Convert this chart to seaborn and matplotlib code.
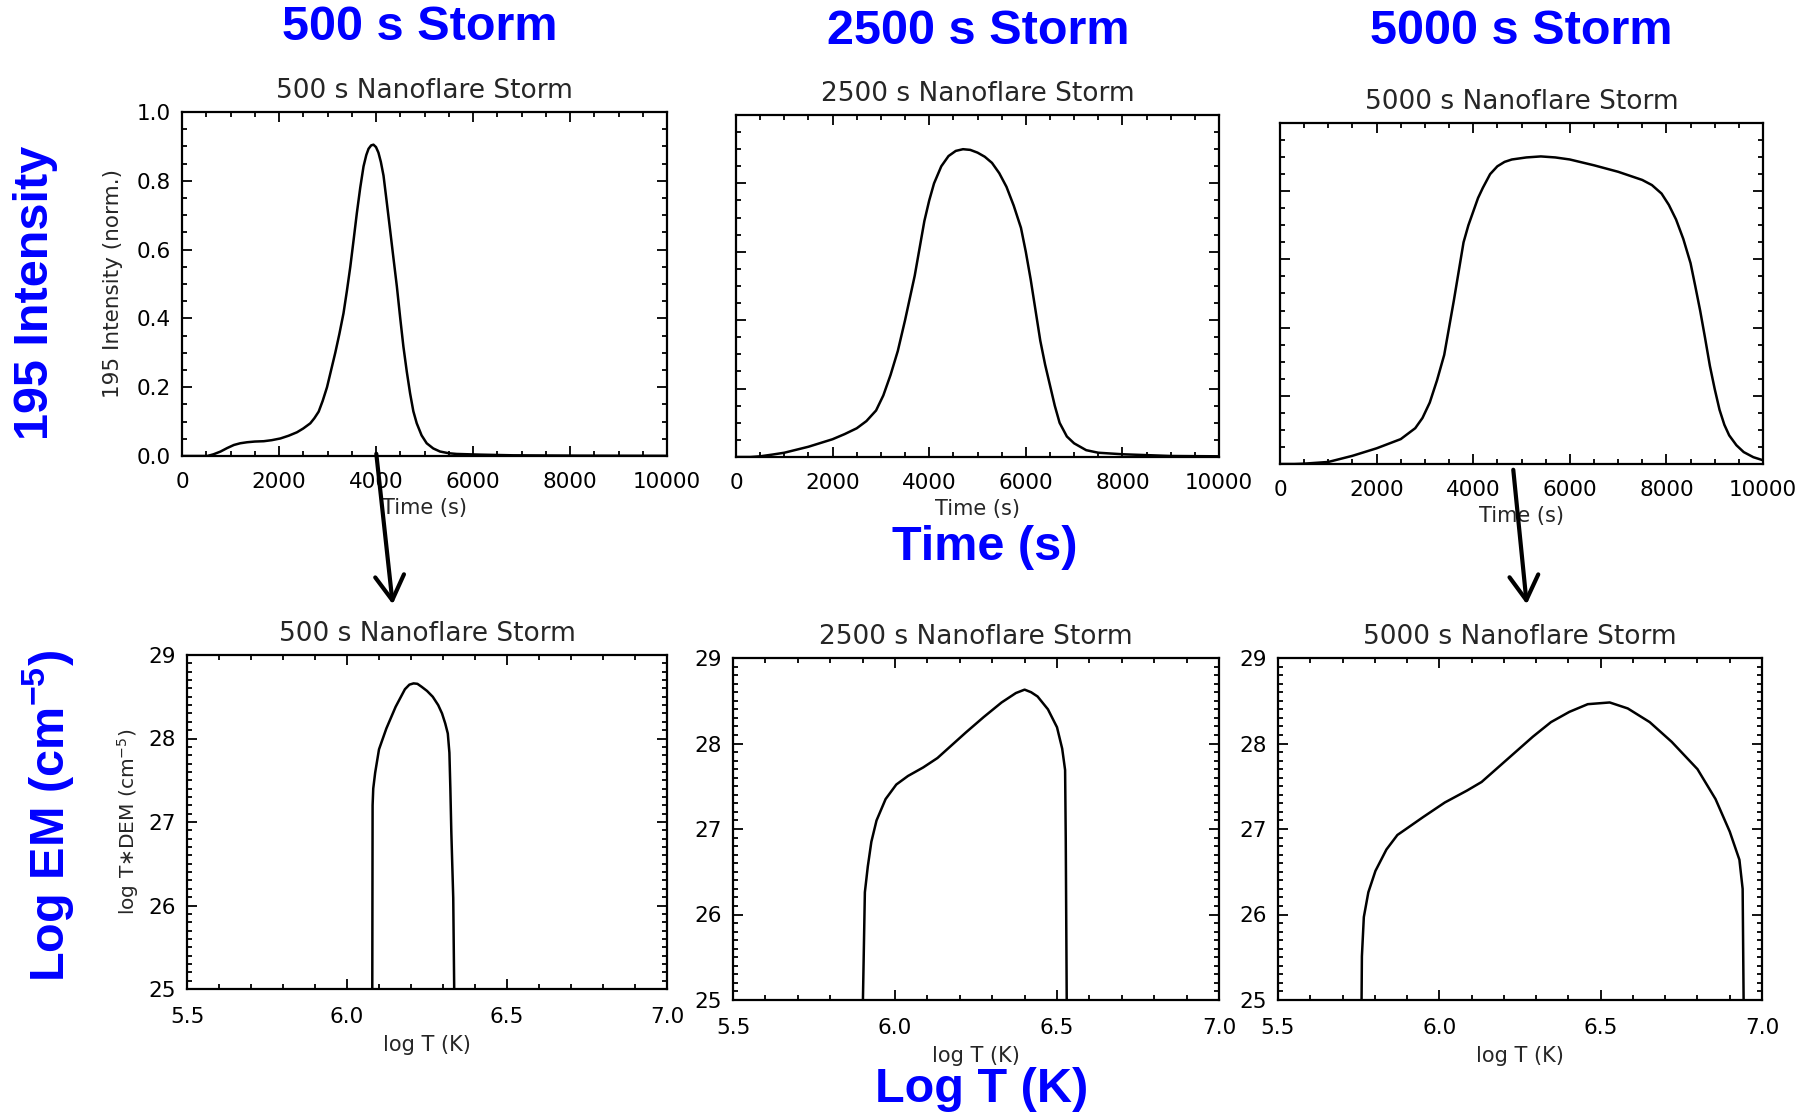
import numpy as np
import pandas as pd
import seaborn as sns
import matplotlib
matplotlib.use("Agg")
import matplotlib.pyplot as plt
from matplotlib.ticker import MultipleLocator, FormatStrFormatter

# ---- light curves: normalised 195 intensity vs time (s) ----
t_500 = [0, 400, 521, 650, 795, 930, 1069, 1200, 1343, 1500, 1686, 1850, 2029, 2200, 2371,
         2500, 2645, 2730, 2818, 2900, 2990, 3075, 3160, 3245, 3330, 3400, 3470, 3540, 3605,
         3675, 3743, 3800, 3846, 3900, 3948, 4000, 4050, 4100, 4155, 4220, 4290, 4360, 4430,
         4500, 4565, 4635, 4703, 4770, 4840, 4940, 5045, 5180, 5320, 5500, 5662, 6141, 6827,
         8200, 10000]
i_500 = [0.0, 0.0, 0.0, 0.005, 0.013, 0.023, 0.032, 0.037, 0.040, 0.042, 0.043, 0.046, 0.051,
         0.059, 0.069, 0.080, 0.095, 0.110, 0.129, 0.160, 0.200, 0.250, 0.300, 0.355, 0.415,
         0.480, 0.550, 0.630, 0.706, 0.780, 0.842, 0.875, 0.893, 0.903, 0.905, 0.898, 0.882,
         0.855, 0.815, 0.740, 0.658, 0.575, 0.493, 0.400, 0.318, 0.245, 0.182, 0.130, 0.095,
         0.060, 0.037, 0.022, 0.013, 0.008, 0.006, 0.004, 0.002, 0.001, 0.0005]

t_2500 = [0, 300, 500, 750, 1000, 1500, 2000, 2250, 2500, 2700, 2900, 3050, 3200, 3350, 3500,
          3600, 3700, 3800, 3900, 4000, 4100, 4250, 4400, 4550, 4700, 4850, 5000, 5150, 5300,
          5450, 5600, 5750, 5900, 6000, 6100, 6200, 6300, 6400, 6500, 6600, 6700, 6850, 7000,
          7250, 7500, 8000, 9000, 10000]
i_2500 = [0.0, 0.0, 0.002, 0.007, 0.0125, 0.030, 0.052, 0.067, 0.084, 0.105, 0.136, 0.180,
          0.240, 0.310, 0.400, 0.465, 0.530, 0.610, 0.690, 0.750, 0.800, 0.850, 0.880, 0.895,
          0.900, 0.898, 0.890, 0.878, 0.860, 0.830, 0.790, 0.735, 0.670, 0.600, 0.520, 0.430,
          0.340, 0.270, 0.210, 0.150, 0.100, 0.060, 0.040, 0.020, 0.0125, 0.008, 0.003, 0.002]

t_5000 = [0, 300, 500, 1000, 1500, 2000, 2500, 2800, 2950, 3100, 3250, 3400, 3500, 3600,
          3700, 3800, 3900, 4000, 4100, 4200, 4350, 4500, 4650, 4800, 5100, 5400, 5700, 6000,
          6500, 7000, 7500, 7700, 7900, 8050, 8200, 8350, 8500, 8600, 8700, 8800, 8900, 9000,
          9100, 9200, 9300, 9450, 9600, 9800, 10000]
i_5000 = [0.0, 0.0, 0.001, 0.006, 0.024, 0.046, 0.073, 0.105, 0.135, 0.180, 0.245, 0.320,
          0.400, 0.480, 0.565, 0.650, 0.700, 0.740, 0.780, 0.810, 0.850, 0.873, 0.886, 0.893,
          0.899, 0.902, 0.899, 0.893, 0.876, 0.857, 0.833, 0.818, 0.793, 0.760, 0.717, 0.660,
          0.589, 0.520, 0.449, 0.370, 0.288, 0.220, 0.159, 0.115, 0.084, 0.055, 0.035, 0.020,
          0.011]

# ---- emission measure distributions: log T*DEM vs log T ----
logt_500 = [6.079, 6.079, 6.080, 6.082, 6.088, 6.100, 6.123, 6.152, 6.181, 6.195, 6.208,
            6.220, 6.233, 6.250, 6.268, 6.285, 6.297, 6.307, 6.315, 6.320, 6.323, 6.326,
            6.332, 6.335, 6.335]
em_500 = [20.0, 25.0, 27.20, 27.40, 27.59, 27.87, 28.12, 28.38, 28.59, 28.645, 28.66, 28.655,
          28.62, 28.57, 28.50, 28.40, 28.30, 28.18, 28.06, 27.83, 27.40, 26.88, 26.09, 25.0,
          20.0]

logt_2500 = [5.901, 5.901, 5.907, 5.916, 5.927, 5.943, 5.971, 6.004, 6.040, 6.087, 6.131,
             6.175, 6.219, 6.274, 6.329, 6.373, 6.400, 6.420, 6.440, 6.472, 6.500, 6.516,
             6.525, 6.527, 6.530, 6.530]
em_2500 = [20.0, 25.0, 26.26, 26.56, 26.85, 27.10, 27.35, 27.52, 27.62, 27.72, 27.83,
           27.98, 28.13, 28.31, 28.48, 28.59, 28.63, 28.60, 28.55, 28.40, 28.19, 27.94,
           27.69, 26.89, 25.0, 20.0]

logt_5000 = [5.759, 5.759, 5.760, 5.766, 5.780, 5.802, 5.836, 5.870, 5.893, 5.950, 6.017,
             6.086, 6.131, 6.176, 6.233, 6.290, 6.346, 6.403, 6.460, 6.528, 6.584, 6.652,
             6.720, 6.800, 6.856, 6.900, 6.930, 6.940, 6.943, 6.943]
em_5000 = [20.0, 25.0, 25.51, 25.97, 26.26, 26.51, 26.76, 26.93, 26.99, 27.14, 27.31,
           27.45, 27.55, 27.70, 27.89, 28.08, 28.25, 28.37, 28.46, 28.48, 28.41, 28.25,
           28.02, 27.70, 27.35, 26.97, 26.64, 26.30, 25.0, 20.0]

storm_names = ["500 s Nanoflare Storm", "2500 s Nanoflare Storm", "5000 s Nanoflare Storm"]
column_heads = ["500 s Storm", "2500 s Storm", "5000 s Storm"]

sns.set_style("ticks")
plt.rcParams["font.family"] = ["DejaVu Sans"]
plt.rcParams["mathtext.fontset"] = "custom"
plt.rcParams["mathtext.bf"] = "Liberation Sans:bold"
plt.rcParams["mathtext.rm"] = "DejaVu Sans"
plt.rcParams["mathtext.it"] = "DejaVu Sans"

W, H = 1814, 1113
fig = plt.figure(figsize=(W / 100, H / 100), dpi=100)


def add_box(x0, y0, x1, y1):
    """Axes from pixel box (left, top, right, bottom), origin at top-left."""
    return fig.add_axes([x0 / W, 1 - y1 / H, (x1 - x0) / W, (y1 - y0) / H])


def idl_style(ax, xpad):
    for s in ax.spines.values():
        s.set_linewidth(1.6)
        s.set_color("black")
    ax.tick_params(which="both", direction="in", top=True, right=True,
                   colors="black", width=1.3)
    ax.tick_params(which="major", length=7, labelsize=15.5)
    ax.tick_params(which="minor", length=3.5)
    ax.tick_params(axis="x", which="major", pad=xpad)
    ax.tick_params(axis="y", which="major", pad=8)


top_boxes = [(182, 112, 667, 456), (736, 115, 1219, 457), (1280, 123, 1763, 464)]
bot_boxes = [(187, 655, 667, 989), (733, 658, 1219, 1000), (1278, 658, 1762, 1000)]

light = [(t_500, i_500), (t_2500, i_2500), (t_5000, i_5000)]
dems = [(logt_500, em_500), (logt_2500, em_2500), (logt_5000, em_5000)]

for k in range(3):
    ax = add_box(*top_boxes[k])
    df = pd.DataFrame({"time": light[k][0], "intensity": light[k][1]})
    sns.lineplot(data=df, x="time", y="intensity", ax=ax, color="black", lw=1.8,
                 sort=False, estimator=None)
    ax.set_xlim(0, 10000)
    ax.set_ylim(0, 1.0)
    ax.xaxis.set_major_locator(MultipleLocator(2000))
    ax.xaxis.set_minor_locator(MultipleLocator(500))
    ax.yaxis.set_major_locator(MultipleLocator(0.2))
    ax.yaxis.set_minor_locator(MultipleLocator(0.05))
    idl_style(ax, 11.5)
    ax.yaxis.set_major_formatter(FormatStrFormatter("%.1f"))
    ax.set_title(storm_names[k], fontsize=19, pad=10)
    ax.set_xlabel("Time (s)", fontsize=15, labelpad=4)
    if k == 0:
        ax.set_ylabel("195 Intensity (norm.)", fontsize=15.5, labelpad=10)
    else:
        ax.set_ylabel("")
        ax.tick_params(axis="y", labelleft=False)

for k in range(3):
    ax = add_box(*bot_boxes[k])
    df = pd.DataFrame({"logT": dems[k][0], "logEM": dems[k][1]})
    sns.lineplot(data=df, x="logT", y="logEM", ax=ax, color="black", lw=1.8,
                 sort=False, estimator=None)
    ax.set_xlim(5.5, 7.0)
    ax.set_ylim(25, 29)
    ax.xaxis.set_major_locator(MultipleLocator(0.5))
    ax.xaxis.set_minor_locator(MultipleLocator(0.1))
    ax.yaxis.set_major_locator(MultipleLocator(1))
    ax.yaxis.set_minor_locator(MultipleLocator(0.1))
    idl_style(ax, 13)
    ax.xaxis.set_major_formatter(FormatStrFormatter("%.1f"))
    ax.yaxis.set_major_formatter(FormatStrFormatter("%d"))
    ax.set_title(storm_names[k], fontsize=19, pad=10)
    ax.set_xlabel("log T (K)", fontsize=15, labelpad=6)
    if k == 0:
        ax.set_ylabel("log T$\\ast$DEM (cm$^{-5}$)", fontsize=14.5, labelpad=5)
    else:
        ax.set_ylabel("")

# ---- big blue annotations ----
blue = "#0000ff"
big = dict(color=blue, fontsize=35, fontweight="bold", family="Liberation Sans",
           ha="center", va="center")


def ftext(x, y, s, **kw):
    fig.text(x / W, 1 - y / H, s, **kw)


ftext(420, 28, column_heads[0], **big)
ftext(978, 31, column_heads[1], **big)
ftext(1521, 31, column_heads[2], **big)
ftext(985, 547, "Time (s)", **big)
ftext(982, 1090, "Log T (K)", **big)
ftext(36, 293, "195 Intensity", rotation=90, **big)
ftext(48, 816, "Log EM (cm$^{\\mathbf{-5}}$)", rotation=90, **big)

# arrows linking light curves to their EM distributions
for (xa, ya), (xb, yb) in [((376, 451), (393, 607)), ((1513, 467), (1527, 607))]:
    fig.add_artist(matplotlib.patches.FancyArrowPatch(
        (xa / W, 1 - ya / H), (xb / W, 1 - yb / H), transform=fig.transFigure,
        arrowstyle="->,head_length=11,head_width=6.5", mutation_scale=1.6,
        lw=3, color="black"))

fig.savefig("out.png", dpi=100, facecolor="white")
